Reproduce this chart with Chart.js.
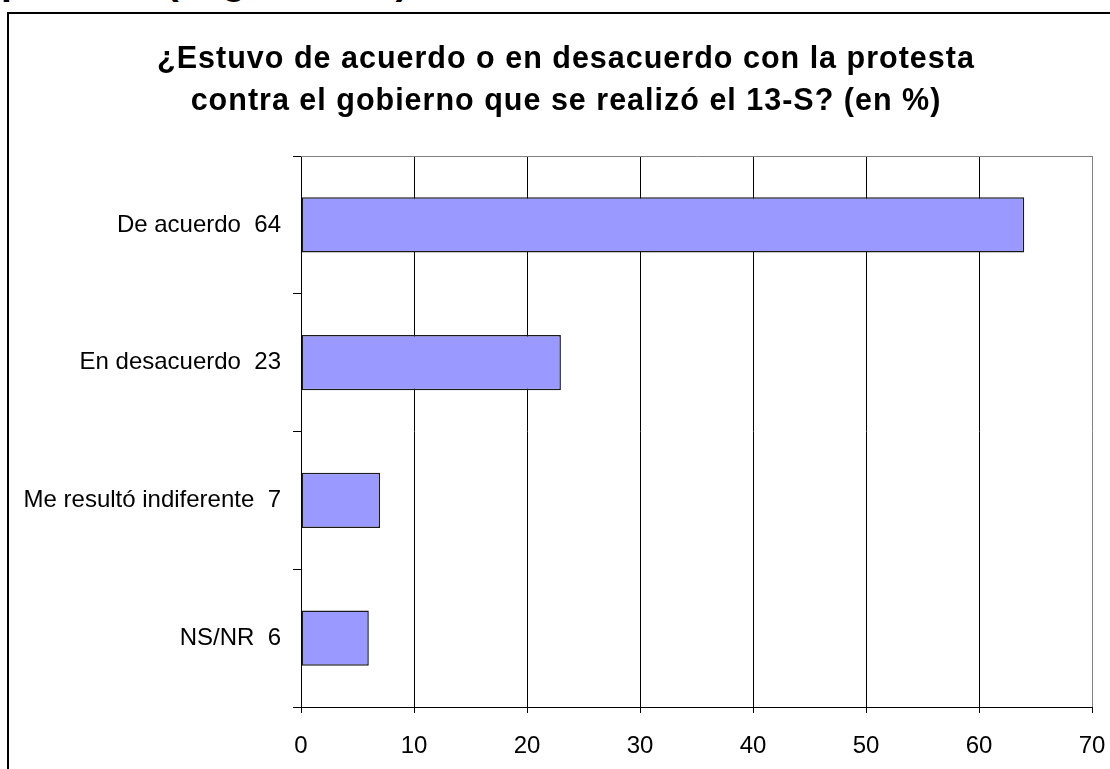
<!DOCTYPE html>
<html>
<head>
<meta charset="utf-8">
<script src="https://cdn.jsdelivr.net/npm/chart.js@4"></script>
<style>
  html, body { margin: 0; padding: 0; background: #fff; overflow: hidden; }
  body { width: 1110px; height: 769px; position: relative; font-family: "Liberation Sans", Arial, sans-serif; }
  #frame { position: absolute; left: 7px; top: 12px; width: 1200px; height: 900px; border: 2px solid #000; box-sizing: border-box; }
  #cut { position: absolute; left: 1px; top: -38px; font-size: 39px; font-weight: bold; line-height: 38px; white-space: nowrap; }
  #title { position: absolute; left: 0; top: 36px; width: 1132px; text-align: center; font-size: 30.5px; font-weight: bold; line-height: 42px; letter-spacing: 1px; }
  canvas { position: absolute; left: 0; top: 0; }
</style>
</head>
<body>
<div id="cut">protesta (según edad)</div>
<div id="frame"></div>
<canvas id="chart" width="1110" height="769"></canvas>
<div id="title">¿Estuvo de acuerdo o en desacuerdo con la protesta<br>contra el gobierno que se realizó el 13-S? (en %)</div>
<script>
// Data
const categories = ["De acuerdo", "En desacuerdo", "Me resultó indiferente", "NS/NR"];
const values = [64, 23, 7, 6];
const xTicks = [0, 10, 20, 30, 40, 50, 60, 70];

const labels = categories.map((c, i) => c + "  " + values[i]);

Chart.defaults.font.family = "'Liberation Sans', Arial, sans-serif";
Chart.defaults.font.size = 24;
Chart.defaults.color = "#000";

// gray top edge of the plot area
const plotFrame = {
  id: "plotFrame",
  afterDraw(chart) {
    const { ctx, chartArea: a } = chart;
    ctx.save();
    ctx.strokeStyle = "#808080";
    ctx.lineWidth = 1;
    ctx.beginPath();
    ctx.moveTo(a.left, a.top + 0.5);
    ctx.lineTo(a.right, a.top + 0.5);
    ctx.stroke();
    ctx.restore();
  },
};

new Chart(document.getElementById("chart"), {
  type: "bar",
  data: {
    labels: labels,
    datasets: [
      {
        data: values,
        backgroundColor: "#9999FF",
        borderColor: "#1a1a1a",
        borderWidth: 1.5,
        borderSkipped: false,
        barPercentage: 0.4,
        categoryPercentage: 1,
      },
    ],
  },
  plugins: [plotFrame],
  options: {
    indexAxis: "y",
    responsive: false,
    animation: false,
    layout: { padding: { top: 156, right: 18, left: 0, bottom: 0 } },
    plugins: { legend: { display: false }, tooltip: { enabled: false } },
    scales: {
      x: {
        min: 0,
        max: 70,
        afterBuildTicks: (s) => { s.ticks = xTicks.map((v) => ({ value: v })); },
        afterFit: (s) => {
          s.height = 62;
          s.paddingLeft = 0;
          s.paddingRight = 0;
        },
        grid: {
          color: (c) => (c.tick && c.tick.value === 70 ? "#808080" : "#000"),
          tickColor: "#000",
          tickLength: 6,
          lineWidth: 1,
        },
        border: { color: "#000", width: 1 },
        ticks: { padding: 19, font: { size: 24 } },
      },
      y: {
        afterFit: (s) => { s.width = 301; },
        grid: { drawOnChartArea: false, tickLength: 8, tickColor: "#000", offset: true },
        border: { color: "#000", width: 1 },
        ticks: { padding: 12, font: { size: 24 } },
      },
    },
  },
});
</script>
</body>
</html>
